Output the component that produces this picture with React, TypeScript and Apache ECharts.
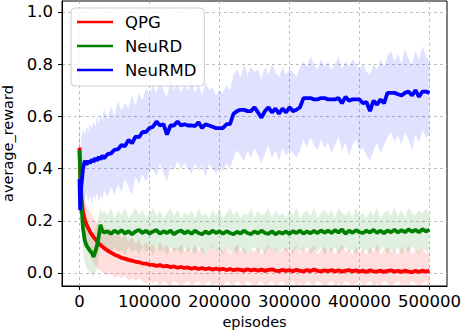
import React, { useEffect, useRef } from "react";
import * as echarts from "echarts";

const episodes = [
  0, 1000, 2500, 5000, 7500, 10000, 12500, 15000, 17500, 20000, 22500, 25000, 27500, 30000, 32500, 35000,
  40000, 45000, 50000, 55000, 60000, 65000, 70000, 75000, 80000, 85000, 90000, 95000, 100000,
  105000, 110000, 115000, 120000, 125000, 130000, 135000, 140000, 145000, 150000,
  155000, 160000, 165000, 170000, 175000, 180000, 185000, 190000, 195000, 200000,
  205000, 210000, 215000, 220000, 225000, 230000, 235000, 240000, 245000, 250000,
  255000, 260000, 265000, 270000, 275000, 280000, 285000, 290000, 295000, 300000,
  305000, 310000, 315000, 320000, 325000, 330000, 335000, 340000, 345000, 350000,
  355000, 360000, 365000, 370000, 375000, 380000, 385000, 390000, 395000, 400000,
  405000, 410000, 415000, 420000, 425000, 430000, 435000, 440000, 445000, 450000,
  455000, 460000, 465000, 470000, 475000, 480000, 485000, 490000, 495000, 500000,
];

const xTicks = [0, 100000, 200000, 300000, 400000, 500000];
const yTicks = [0, 0.2, 0.4, 0.6, 0.8, 1.0];

// QPG
const qpgMean = [
  0.48, 0.38, 0.30, 0.235, 0.205, 0.185, 0.172, 0.158, 0.148, 0.138, 0.13, 0.121, 0.114, 0.107, 0.101, 0.096,
  0.086, 0.078, 0.07, 0.065, 0.058, 0.055, 0.05, 0.047, 0.043, 0.041, 0.037, 0.036, 0.032,
  0.031, 0.027, 0.030, 0.025, 0.027, 0.022, 0.025, 0.020, 0.023, 0.019,
  0.021, 0.016, 0.020, 0.015, 0.019, 0.014, 0.018, 0.013, 0.017, 0.013,
  0.016, 0.011, 0.015, 0.010, 0.014, 0.012, 0.009, 0.014, 0.010, 0.013,
  0.009, 0.013, 0.008, 0.012, 0.014, 0.009, 0.007, 0.012, 0.008, 0.011,
  0.007, 0.012, 0.008, 0.006, 0.011, 0.007, 0.013, 0.008, 0.006, 0.010,
  0.007, 0.011, 0.006, 0.010, 0.005, 0.009, 0.011, 0.006, 0.010, 0.005,
  0.009, 0.004, 0.010, 0.006, 0.005, 0.009, 0.004, 0.008, 0.010, 0.005,
  0.008, 0.004, 0.009, 0.005, 0.003, 0.008, 0.004, 0.009, 0.005, 0.008,
];
const qpgUpper = [
  0.59, 0.50, 0.42, 0.33, 0.29, 0.26, 0.25, 0.23, 0.22, 0.21, 0.20, 0.19, 0.18, 0.19, 0.17, 0.18,
  0.16, 0.17, 0.14, 0.16, 0.13, 0.15, 0.12, 0.14, 0.11, 0.13, 0.10, 0.12, 0.10,
  0.11, 0.09, 0.12, 0.09, 0.11, 0.08, 0.10, 0.09, 0.11, 0.08,
  0.10, 0.08, 0.11, 0.08, 0.10, 0.07, 0.09, 0.11, 0.08, 0.10,
  0.08, 0.10, 0.07, 0.09, 0.11, 0.08, 0.10, 0.07, 0.09, 0.08,
  0.10, 0.07, 0.09, 0.11, 0.08, 0.10, 0.07, 0.09, 0.10, 0.08,
  0.09, 0.11, 0.07, 0.10, 0.08, 0.09, 0.11, 0.07, 0.09, 0.10,
  0.08, 0.10, 0.07, 0.09, 0.11, 0.08, 0.09, 0.07, 0.10, 0.08,
  0.09, 0.07, 0.10, 0.08, 0.11, 0.07, 0.09, 0.10, 0.08, 0.09,
  0.07, 0.10, 0.08, 0.11, 0.07, 0.09, 0.08, 0.10, 0.07, 0.09,
];
const qpgLower = [
  0.40, 0.28, 0.20, 0.15, 0.12, 0.10, 0.08, 0.07, 0.05, 0.04, 0.03, 0.02, 0.01, 0.01, 0.0, 0.0,
  -0.01, 0.0, -0.02, -0.01, -0.02, -0.01, -0.03, -0.02, -0.03, -0.02, -0.03, -0.04, -0.03,
  -0.04, -0.03, -0.05, -0.03, -0.04, -0.05, -0.03, -0.04, -0.05, -0.04,
  -0.03, -0.05, -0.04, -0.03, -0.05, -0.04, -0.03, -0.05, -0.04, -0.04,
  -0.05, -0.03, -0.04, -0.05, -0.03, -0.04, -0.05, -0.03, -0.04, -0.05,
  -0.04, -0.03, -0.05, -0.04, -0.03, -0.05, -0.04, -0.03, -0.05, -0.04,
  -0.03, -0.05, -0.04, -0.05, -0.03, -0.04, -0.05, -0.03, -0.04, -0.05,
  -0.04, -0.03, -0.05, -0.04, -0.05, -0.03, -0.04, -0.05, -0.04, -0.03,
  -0.05, -0.04, -0.03, -0.05, -0.04, -0.05, -0.03, -0.04, -0.05, -0.04,
  -0.03, -0.05, -0.04, -0.05, -0.03, -0.04, -0.05, -0.04, -0.03, -0.05,
];

// NeuRD
const neurdMean = [
  0.47, 0.38, 0.27, 0.17, 0.125, 0.105, 0.095, 0.085, 0.078, 0.062, 0.08, 0.105, 0.14, 0.185, 0.162, 0.155,
  0.160, 0.150, 0.162, 0.153, 0.164, 0.151, 0.160, 0.148, 0.159, 0.165, 0.153, 0.162, 0.151,
  0.159, 0.164, 0.150, 0.160, 0.153, 0.162, 0.148, 0.158, 0.163, 0.152,
  0.160, 0.150, 0.162, 0.153, 0.148, 0.159, 0.151, 0.162, 0.153, 0.160,
  0.150, 0.160, 0.153, 0.148, 0.158, 0.151, 0.162, 0.153, 0.149, 0.159,
  0.152, 0.162, 0.153, 0.150, 0.160, 0.148, 0.157, 0.151, 0.159, 0.150,
  0.160, 0.153, 0.162, 0.151, 0.159, 0.152, 0.161, 0.153, 0.163, 0.154,
  0.162, 0.153, 0.164, 0.155, 0.167, 0.150, 0.162, 0.154, 0.164, 0.156,
  0.153, 0.162, 0.155, 0.165, 0.154, 0.162, 0.152, 0.163, 0.156, 0.165,
  0.155, 0.164, 0.156, 0.167, 0.158, 0.165, 0.156, 0.168, 0.159, 0.166,
];
const neurdUpper = [
  0.55, 0.45, 0.36, 0.26, 0.21, 0.19, 0.18, 0.17, 0.16, 0.15, 0.17, 0.19, 0.22, 0.25, 0.23, 0.24,
  0.22, 0.25, 0.21, 0.24, 0.22, 0.25, 0.21, 0.23, 0.25, 0.22, 0.24, 0.21, 0.23,
  0.25, 0.22, 0.24, 0.21, 0.23, 0.25, 0.22, 0.24, 0.21, 0.23,
  0.22, 0.24, 0.21, 0.25, 0.22, 0.23, 0.21, 0.24, 0.22, 0.25,
  0.21, 0.23, 0.25, 0.22, 0.24, 0.21, 0.23, 0.22, 0.25, 0.21,
  0.24, 0.22, 0.23, 0.25, 0.21, 0.24, 0.22, 0.23, 0.21, 0.24,
  0.22, 0.25, 0.21, 0.23, 0.24, 0.22, 0.25, 0.21, 0.23, 0.24,
  0.22, 0.24, 0.21, 0.25, 0.23, 0.22, 0.24, 0.21, 0.25, 0.22,
  0.23, 0.21, 0.24, 0.22, 0.25, 0.21, 0.23, 0.24, 0.22, 0.25,
  0.22, 0.24, 0.21, 0.25, 0.23, 0.22, 0.24, 0.23, 0.25, 0.22,
];
const neurdLower = [
  0.40, 0.30, 0.19, 0.09, 0.04, 0.02, 0.01, 0.0, -0.01, -0.01, 0.0, 0.02, 0.06, 0.11, 0.09, 0.08,
  0.09, 0.07, 0.10, 0.08, 0.09, 0.07, 0.10, 0.08, 0.09, 0.07, 0.10, 0.08, 0.09,
  0.07, 0.10, 0.08, 0.09, 0.07, 0.10, 0.08, 0.09, 0.07, 0.10,
  0.08, 0.09, 0.07, 0.10, 0.08, 0.07, 0.09, 0.10, 0.08, 0.09,
  0.07, 0.10, 0.08, 0.09, 0.07, 0.10, 0.08, 0.07, 0.09, 0.10,
  0.08, 0.09, 0.07, 0.10, 0.08, 0.09, 0.07, 0.10, 0.08, 0.09,
  0.07, 0.10, 0.08, 0.09, 0.10, 0.07, 0.09, 0.08, 0.10, 0.07,
  0.09, 0.08, 0.10, 0.07, 0.09, 0.10, 0.08, 0.09, 0.07, 0.10,
  0.08, 0.09, 0.07, 0.10, 0.08, 0.09, 0.10, 0.07, 0.09, 0.08,
  0.10, 0.07, 0.09, 0.08, 0.10, 0.09, 0.07, 0.10, 0.08, 0.09,
];

// NeuRMD
const neurmdMean = [
  0.36, 0.24, 0.33, 0.40, 0.43, 0.415, 0.43, 0.42, 0.435, 0.425, 0.44, 0.43, 0.445, 0.435, 0.45, 0.44,
  0.455, 0.458, 0.472, 0.474, 0.49, 0.486, 0.51, 0.497, 0.522, 0.52, 0.54, 0.54, 0.555,
  0.56, 0.58, 0.565, 0.57, 0.53, 0.565, 0.565, 0.58, 0.565, 0.57,
  0.565, 0.565, 0.563, 0.577, 0.555, 0.57, 0.565, 0.56, 0.555, 0.555,
  0.555, 0.57, 0.57, 0.61, 0.62, 0.625, 0.625, 0.62, 0.62, 0.635,
  0.615, 0.595, 0.62, 0.635, 0.615, 0.63, 0.61, 0.63, 0.615, 0.635,
  0.62, 0.625, 0.635, 0.67, 0.67, 0.67, 0.665, 0.665, 0.67, 0.67,
  0.665, 0.665, 0.665, 0.67, 0.65, 0.675, 0.66, 0.665, 0.665, 0.665,
  0.65, 0.655, 0.62, 0.66, 0.645, 0.665, 0.65, 0.69, 0.69, 0.69,
  0.685, 0.68, 0.69, 0.695, 0.68, 0.70, 0.675, 0.695, 0.695, 0.69,
];
const neurmdUpper = [
  0.58, 0.45, 0.52, 0.55, 0.53, 0.56, 0.54, 0.57, 0.55, 0.58, 0.56, 0.60, 0.57, 0.61, 0.58, 0.63,
  0.59, 0.64, 0.60, 0.66, 0.62, 0.65, 0.63, 0.68, 0.64, 0.69, 0.66, 0.71, 0.68,
  0.72, 0.69, 0.74, 0.70, 0.67, 0.75, 0.70, 0.73, 0.69, 0.72,
  0.70, 0.74, 0.69, 0.72, 0.68, 0.73, 0.70, 0.71, 0.68, 0.70,
  0.69, 0.72, 0.70, 0.76, 0.78, 0.75, 0.80, 0.76, 0.79, 0.77,
  0.78, 0.74, 0.79, 0.76, 0.80, 0.77, 0.75, 0.79, 0.76, 0.78,
  0.77, 0.75, 0.79, 0.81, 0.79, 0.83, 0.80, 0.78, 0.82, 0.79,
  0.81, 0.78, 0.80, 0.83, 0.78, 0.81, 0.79, 0.82, 0.80, 0.78,
  0.80, 0.77, 0.76, 0.80, 0.78, 0.82, 0.79, 0.83, 0.85, 0.81,
  0.84, 0.80, 0.86, 0.82, 0.80, 0.85, 0.82, 0.87, 0.83, 0.81,
];
const neurmdLower = [
  0.25, 0.22, 0.25, 0.30, 0.28, 0.31, 0.27, 0.30, 0.26, 0.30, 0.28, 0.31, 0.27, 0.30, 0.28, 0.32,
  0.29, 0.33, 0.30, 0.34, 0.31, 0.36, 0.33, 0.30, 0.37, 0.34, 0.38, 0.35, 0.39,
  0.40, 0.37, 0.42, 0.38, 0.35, 0.41, 0.39, 0.43, 0.40, 0.42,
  0.40, 0.38, 0.42, 0.39, 0.41, 0.37, 0.42, 0.40, 0.38, 0.41,
  0.39, 0.42, 0.40, 0.44, 0.47, 0.45, 0.43, 0.47, 0.44, 0.48,
  0.45, 0.42, 0.46, 0.49, 0.44, 0.47, 0.43, 0.48, 0.45, 0.47,
  0.46, 0.44, 0.47, 0.51, 0.48, 0.52, 0.49, 0.47, 0.51, 0.48,
  0.50, 0.46, 0.49, 0.52, 0.47, 0.50, 0.45, 0.49, 0.51, 0.47,
  0.48, 0.45, 0.43, 0.47, 0.50, 0.46, 0.49, 0.52, 0.54, 0.50,
  0.53, 0.49, 0.54, 0.51, 0.47, 0.53, 0.50, 0.55, 0.52, 0.53,
];

const FONT = "DejaVu Sans";
const Y_MIN = -0.05;
const Y_MAX = 1.042;

function bandSeries(key: string, lower: number[], upper: number[], color: string) {
  return {
    type: "custom",
    name: key + "_band",
    coordinateSystem: "cartesian2d",
    silent: true,
    z: 1,
    data: [[0, 0]],
    renderItem: (_params: any, api: any) => {
      const pts: number[][] = [];
      for (let i = 0; i < episodes.length; i++) pts.push(api.coord([episodes[i], Math.max(upper[i], Y_MIN)]));
      for (let i = episodes.length - 1; i >= 0; i--) pts.push(api.coord([episodes[i], Math.max(lower[i], Y_MIN)]));
      return {
        type: "polygon",
        shape: { points: pts },
        style: { fill: color, stroke: null },
      };
    },
  };
}

function meanSeries(name: string, values: number[], color: string) {
  return {
    type: "line",
    name,
    data: episodes.map((x, i) => [x, values[i]]),
    symbol: "none",
    color,
    lineStyle: { color, width: 3.8 },
    z: 3,
  };
}

export default function App() {
  const ref = useRef<HTMLDivElement>(null);
  useEffect(() => {
    if (!ref.current) return;
    const chart = echarts.init(ref.current, undefined, { renderer: "svg" });
    chart.setOption({
      animation: false,
      backgroundColor: "#ffffff",
      grid: {
        left: 62,
        right: 15,
        top: 1,
        bottom: 48,
        containLabel: false,
        outerBoundsMode: "none",
        show: true,
        borderColor: "#000000",
        borderWidth: 1,
        backgroundColor: "transparent",
      },
      legend: {
        data: [
          { name: "QPG", icon: "rect" },
          { name: "NeuRD", icon: "rect" },
          { name: "NeuRMD", icon: "rect" },
        ],
        orient: "vertical",
        left: 71,
        top: 8,
        itemWidth: 36,
        itemHeight: 2.5,
        itemGap: 4,
        padding: [4, 8, 6, 6],
        backgroundColor: "rgba(255,255,255,0.8)",
        borderColor: "#cccccc",
        borderWidth: 1,
        borderRadius: 4,
        textStyle: {
          fontFamily: FONT,
          fontSize: 16.5,
          color: "#000",
          lineHeight: 20,
          padding: [0, 0, 0, 7],
        },
      },
      xAxis: {
        type: "value",
        min: -25000,
        max: 525000,
        name: "episodes",
        nameLocation: "middle",
        nameGap: 19,
        nameTextStyle: { fontFamily: FONT, fontSize: 14.5, color: "#000" },
        axisLine: { show: true, onZero: false, lineStyle: { color: "#000" } },
        axisTick: { show: true, length: 4, inside: false, customValues: xTicks, lineStyle: { color: "#000" } },
        axisLabel: {
          customValues: xTicks,
          fontFamily: FONT,
          fontSize: 16.5,
          color: "#000",
          margin: 7,
          formatter: (v: number) => String(v),
        },
        splitLine: { show: true, lineStyle: { color: "#b0b0b0", type: [3, 3], width: 0.8 } },
      },
      yAxis: {
        type: "value",
        min: Y_MIN,
        max: Y_MAX,
        name: "average_reward",
        nameLocation: "middle",
        nameGap: 32,
        nameTextStyle: { fontFamily: FONT, fontSize: 14.5, color: "#000" },
        axisLine: { show: true, onZero: false, lineStyle: { color: "#000" } },
        axisTick: { show: true, length: 4, inside: false, customValues: yTicks, lineStyle: { color: "#000" } },
        axisLabel: {
          customValues: yTicks,
          fontFamily: FONT,
          fontSize: 16.5,
          color: "#000",
          margin: 9,
          formatter: (v: number) => v.toFixed(1),
        },
        splitLine: { show: true, lineStyle: { color: "#b0b0b0", type: [3, 3], width: 0.8 } },
      },
      series: [
        bandSeries("qpg", qpgLower, qpgUpper, "rgba(255,0,0,0.13)"),
        bandSeries("neurd", neurdLower, neurdUpper, "rgba(0,128,0,0.12)"),
        bandSeries("neurmd", neurmdLower, neurmdUpper, "rgba(0,0,255,0.12)"),
        meanSeries("QPG", qpgMean, "#ff0000"),
        meanSeries("NeuRD", neurdMean, "#008000"),
        meanSeries("NeuRMD", neurmdMean, "#0000ff"),
      ],
    });
    return () => chart.dispose();
  }, []);
  return <div ref={ref} style={{ width: 462, height: 334, position: "fixed", left: 0, top: 0 }} />;
}
